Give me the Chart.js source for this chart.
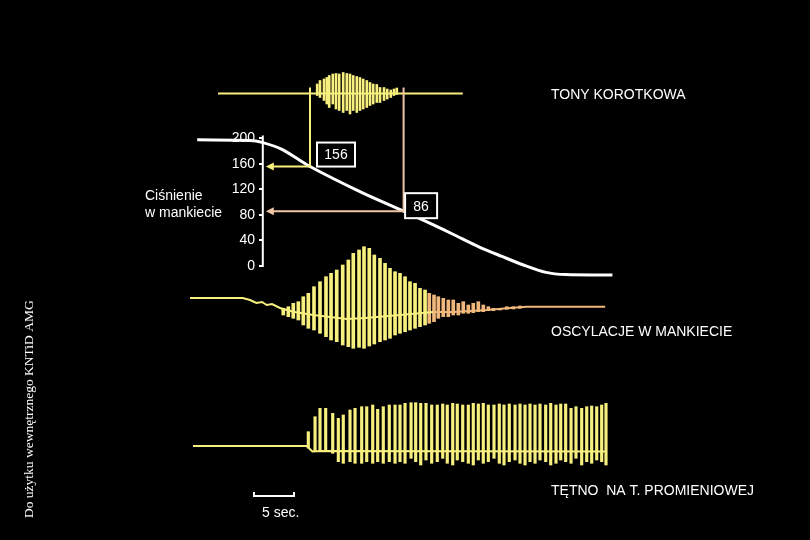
<!DOCTYPE html>
<html>
<head>
<meta charset="utf-8">
<script src="https://cdn.jsdelivr.net/npm/chart.js@4.4.1/dist/chart.umd.min.js"></script>
<style>
  html, body { margin: 0; padding: 0; background: #000; }
  canvas { display: block; }
</style>
</head>
<body>
<canvas id="myChart" width="810" height="540"></canvas>
<script>
// time in seconds (scale bar = 5 sec), pressure in mmHg, traces in relative units

const pressureTicks = [0, 40, 80, 120, 160, 200];
const pressureTimes = [0.9, 7.5, 9, 11.5, 15, 21.5, 26.7, 30.5, 33, 36.3, 39, 41.6, 44.5, 47, 52.8];
const pressureValues = [198, 197, 194, 183, 156, 115, 86, 64, 49, 29, 15, 2, -10, -13.5, -14];

// systolic / diastolic readings
const markerTimes = [15, 26.7];
const markerValues = [156, 86];

// Korotkoff sounds
const korotLineTimes = [3.5, 34.1];
const korotLineValues = [0, 0];
const korotTimes = [15.9, 16.25, 16.75, 17.1, 17.4, 17.85, 18.25, 18.65, 19.15, 19.6, 20.0, 20.4, 20.85,
  21.25, 21.65, 22.1, 22.5, 22.9, 23.35, 23.75, 24.25, 24.65, 25.1, 25.5, 25.85];
const korotHigh = [9.5, 13, 14.5, 16, 18, 19.5, 20, 19.5, 21, 20, 19.5, 18, 17, 16, 14.5, 13, 11, 9.5, 9,
  6, 6, 4.5, 3.5, 4.5, 5.5];
const korotLow = [-2, -4, -7, -10.5, -14, -10.5, -15.5, -17, -19, -17, -20.5, -17, -19, -17, -15.5, -14,
  -12, -10.5, -9, -9, -7, -5.5, -4, -2, -1];

// cuff oscillations
const oscTraceTimes = [0, 6.6, 7.5, 8.3, 9.0, 9.6, 10.25, 11.25, 12.9, 15.4, 19.6, 21.9, 26.25, 30.4, 32.9,
  37.1, 40.0, 42.1, 51.9];
const oscTraceValues = [0, 0, -2, -5, -4, -7, -6, -10, -13.7, -17, -21, -20, -17, -14, -14, -12, -10, -8.7, -8.7];
const oscTimes = [11.66, 12.29, 12.91, 13.54, 14.16, 14.79, 15.5, 16.25, 17.0, 17.63, 18.34, 19.09, 19.79,
  20.41, 21.13, 21.75, 22.41, 23.04, 23.75, 24.38, 25.0, 25.63, 26.25, 26.88, 27.5, 28.13, 28.75, 29.38,
  29.91, 30.5, 31.04, 31.66, 32.29, 32.91, 33.54, 34.16, 34.79, 35.41, 36.04, 36.66, 37.29, 37.91, 38.75,
  39.59, 40.41, 41.25];
const oscHigh = [-10.3, -8.7, -5.3, -3.7, 1.3, 4.7, 11.3, 16.3, 21.3, 24.7, 28, 33, 38, 44.7, 48, 51.3, 49.7,
  43, 39.7, 34.7, 29.7, 26.3, 24.7, 21.3, 16.3, 14.7, 9.7, 8, 4.7, 3, 1.3, -0.3, -2, -2, -5.3, -3.7, -7, -5.3,
  -3.7, -7, -8.7, -10.3, -10.3, -8.7, -8.7, -8];
const oscLow = [-17, -18.7, -20.3, -22, -27, -30.3, -32, -35.3, -38.7, -42, -43.7, -47, -48.7, -50.3, -49.3,
  -50.3, -48, -46, -43.7, -42, -40.3, -37, -35.3, -33.7, -32, -30.3, -28.7, -27, -25.3, -23.7, -20.3, -18.7,
  -18.7, -17, -17, -15.3, -15.3, -14.7, -13.7, -13.7, -12.7, -12.7, -12, -11.3, -11, -10.3];

// radial pulse
const pulseTraceTimes = [0.375, 14.6, 14.85, 15.3, 16.5, 52.0];
const pulseTraceValues = [0, 0, -2, -5.5, -5, -5.5];
const pulseTimes = [14.79, 15.63, 16.25, 16.96, 17.84, 18.54, 19.16, 20.0, 20.63, 21.46, 22.09, 22.84, 23.46,
  24.16, 24.91, 25.63, 26.25, 26.88, 27.63, 28.21, 28.84, 29.5, 30.21, 30.91, 31.59, 32.16, 32.84, 33.41,
  34.09, 34.79, 35.41, 36.04, 36.66, 37.29, 38.0, 38.66, 39.25, 39.91, 40.63, 41.25, 41.88, 42.5, 43.13,
  43.75, 44.46, 45.09, 45.75, 46.34, 46.96, 47.63, 48.25, 48.96, 49.59, 50.21, 50.84, 51.46, 52.0];
const pulseHigh = [14.3, 29.3, 37.7, 37.7, 32.7, 27.7, 31, 36, 37.7, 39.3, 39.3, 41, 36.7, 39.3, 41, 41, 41,
  42.7, 43.3, 43.3, 42.7, 42.7, 41, 41, 42, 41, 42.7, 42, 41, 41, 42.7, 42, 42.7, 41, 41, 42, 41, 42, 41, 42,
  41, 42, 41, 42, 41, 42.7, 41, 42, 42, 37.7, 39.3, 37.7, 39.3, 40, 39.3, 41, 42.7];
const pulseLow = [-2, -5.7, -5.7, -5.7, -7.3, -15.7, -17.3, -15.7, -17.3, -17.3, -15.7, -17.3, -15.7, -17.3,
  -15.7, -17.3, -15.7, -17.3, -12.3, -15.7, -19, -14, -17.3, -15.7, -12.3, -17.3, -19, -14, -15.7, -17.3,
  -19, -14, -17.3, -15.7, -12.3, -17.3, -19, -15.7, -14, -17.3, -19, -15.7, -17.3, -14, -15.7, -19, -17.3,
  -14, -15.7, -17.3, -12.3, -19, -15.7, -17.3, -14, -15.7, -19];

const axisTime = 9.1;      // where the pressure axis stands on the time axis
const scaleBar = [8, 13];  // 5 sec

const YELLOW = '#f7f07e';
const PEACH = '#f0b87c';
const FONT = '"Liberation Sans", Arial, sans-serif';

const pts = (xs, ys) => xs.map((x, i) => ({ x: x, y: ys[i] }));
const bars = (xs, lo, hi) => xs.map((x, i) => ({ x: x, y: [lo[i], hi[i]] }));

const overlay = {
  id: 'overlay',
  afterDatasetsDraw(chart) {
    const { ctx, scales } = chart;
    const { x, yP, yK } = scales;
    const ax = x.getPixelForValue(axisTime);
    ctx.save();

    // pressure axis line
    ctx.strokeStyle = '#fff';
    ctx.lineWidth = 2;
    ctx.beginPath();
    ctx.moveTo(ax, yP.getPixelForValue(pressureTicks[0]) + 1);
    ctx.lineTo(ax, yP.getPixelForValue(pressureTicks[pressureTicks.length - 1]) - 3);
    ctx.stroke();

    // connectors from the sounds to the pressure curve and arrows to the axis
    const colors = [YELLOW, '#eec6a6'];
    const boxes = [{ dx: 7, dy: -24, w: 38, h: 24 }, { dx: 1.5, dy: -18, w: 32, h: 25 }];
    markerValues.forEach((p, i) => {
      const px = x.getPixelForValue(markerTimes[i]);
      const py = yP.getPixelForValue(p);
      const top = yK.getPixelForValue(6);
      ctx.strokeStyle = colors[i];
      ctx.fillStyle = colors[i];
      ctx.lineWidth = 2;
      ctx.beginPath();
      ctx.moveTo(px, top);
      ctx.lineTo(px, py);
      ctx.moveTo(px, py);
      ctx.lineTo(ax + 10, py);
      ctx.stroke();
      ctx.beginPath();
      ctx.moveTo(ax + 3, py);
      ctx.lineTo(ax + 11, py - 4);
      ctx.lineTo(ax + 11, py + 4);
      ctx.closePath();
      ctx.fill();

      const b = boxes[i];
      ctx.fillStyle = '#000';
      ctx.fillRect(px + b.dx, py + b.dy, b.w, b.h);
      ctx.strokeStyle = '#fff';
      ctx.lineWidth = 2;
      ctx.strokeRect(px + b.dx, py + b.dy, b.w, b.h);
      ctx.fillStyle = '#fff';
      ctx.font = '14px ' + FONT;
      ctx.textAlign = 'center';
      ctx.textBaseline = 'middle';
      ctx.fillText(String(p), px + b.dx + b.w / 2, py + b.dy + b.h / 2 + 1);
    });

    // 5 sec bar
    const sx0 = x.getPixelForValue(scaleBar[0]);
    const sx1 = x.getPixelForValue(scaleBar[1]);
    ctx.strokeStyle = '#fff';
    ctx.lineWidth = 2;
    ctx.beginPath();
    ctx.moveTo(sx0, 492); ctx.lineTo(sx0, 496); ctx.lineTo(sx1, 496); ctx.lineTo(sx1, 492);
    ctx.stroke();

    // labels
    ctx.fillStyle = '#fff';
    ctx.font = '14px ' + FONT;
    ctx.textAlign = 'left';
    ctx.textBaseline = 'middle';
    ctx.fillText('TONY KOROTKOWA', 551, 95);
    ctx.fillText('OSCYLACJE W MANKIECIE', 551, 332);
    ctx.fillText('TĘTNO  NA T. PROMIENIOWEJ', 551, 491);
    ctx.fillText('5 sec.', 262, 513);
    ctx.textBaseline = 'alphabetic';
    ctx.fillText('Ciśnienie', 145, 200);
    ctx.fillText('w mankiecie', 145, 217);

    ctx.translate(29, 518);
    ctx.rotate(-Math.PI / 2);
    ctx.font = '13.5px "Liberation Serif", "Times New Roman", serif';
    ctx.textBaseline = 'middle';
    ctx.fillText('Do użytku wewnętrznego KNTiD AMG', 0, 0);
    ctx.restore();
  }
};

const ctx = document.getElementById('myChart').getContext('2d');

new Chart(ctx, {
  type: 'line',
  data: {
    datasets: [
      {
        type: 'line',
        data: pts(pressureTimes, pressureValues),
        yAxisID: 'yP',
        borderColor: '#fff',
        borderWidth: 3,
        tension: 0.3,
        pointRadius: 0
      },
      {
        type: 'line',
        data: pts(korotLineTimes, korotLineValues),
        yAxisID: 'yK',
        borderColor: YELLOW,
        borderWidth: 2,
        pointRadius: 0
      },
      {
        type: 'bar',
        data: bars(korotTimes, korotLow, korotHigh),
        yAxisID: 'yK',
        backgroundColor: YELLOW,
        barThickness: 2,
        grouped: false
      },
      {
        type: 'line',
        data: pts(oscTraceTimes, oscTraceValues),
        yAxisID: 'yO',
        borderWidth: 2,
        pointRadius: 0,
        borderColor: YELLOW,
        segment: {
          borderColor: c => c.p0.parsed.x >= 30 ? PEACH : YELLOW
        }
      },
      {
        type: 'bar',
        data: bars(oscTimes, oscLow, oscHigh),
        yAxisID: 'yO',
        backgroundColor: c => (c.raw && c.raw.x > 29.7) ? PEACH : YELLOW,
        barThickness: 3,
        grouped: false
      },
      {
        type: 'line',
        data: pts(pulseTraceTimes, pulseTraceValues),
        yAxisID: 'yH',
        borderColor: YELLOW,
        borderWidth: 2,
        pointRadius: 0
      },
      {
        type: 'bar',
        data: bars(pulseTimes, pulseLow, pulseHigh),
        yAxisID: 'yH',
        backgroundColor: YELLOW,
        barThickness: 2.5,
        grouped: false
      }
    ]
  },
  options: {
    responsive: false,
    animation: false,
    events: [],
    layout: { padding: 0 },
    plugins: {
      legend: { display: false },
      tooltip: { enabled: false },
      title: { display: false }
    },
    scales: {
      x: { type: 'linear', display: false, min: -23.75, max: 77.5, offset: false },
      yK: { axis: 'y', type: 'linear', display: false, min: -446.5, max: 93.5 },
      yO: { axis: 'y', type: 'linear', display: false, min: -242, max: 298 },
      yH: { axis: 'y', type: 'linear', display: false, min: -94, max: 446 },
      yP: {
        axis: 'y',
        type: 'linear',
        position: { x: axisTime },
        min: -429.8,
        max: 417.25,
        afterBuildTicks: s => { s.ticks = pressureTicks.map(v => ({ value: v })); },
        afterFit: s => { s.paddingTop = 0; s.paddingBottom = 0; },
        border: { display: false },
        grid: { drawOnChartArea: false, drawTicks: true, tickLength: 4, color: '#fff', lineWidth: 2 },
        ticks: {
          color: '#fff',
          autoSkip: false,
          callback: v => v + '  ',
          font: { family: FONT, size: 14 }
        }
      }
    }
  },
  plugins: [overlay]
});
</script>
</body>
</html>
